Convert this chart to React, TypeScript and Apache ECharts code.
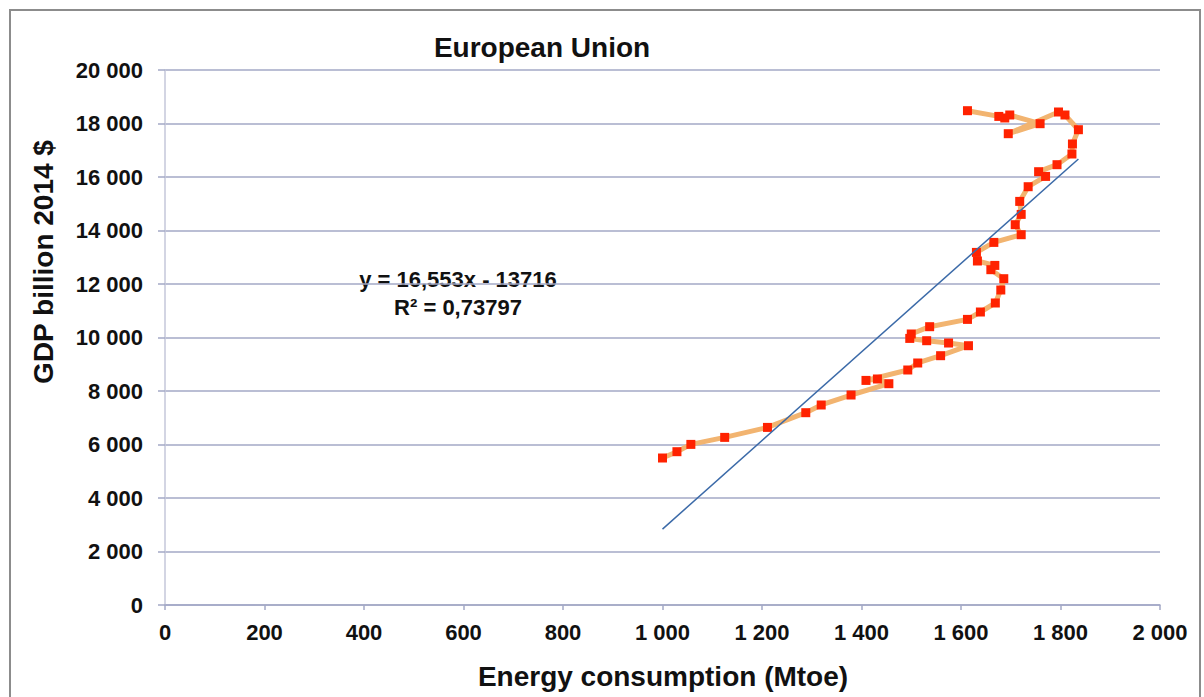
import React, { useEffect, useRef } from "react";
import * as echarts from "echarts";

const energy = [1000, 1029, 1057, 1125, 1211, 1288, 1319, 1379, 1455, 1432, 1409, 1493, 1513, 1559, 1615, 1575, 1531, 1497, 1500, 1537, 1613, 1639, 1669, 1680, 1686, 1660, 1668, 1633, 1631, 1666, 1721, 1709, 1721, 1718, 1735, 1770, 1756, 1793, 1823, 1824, 1836, 1809, 1796, 1695, 1759, 1698, 1688, 1676, 1613];
const gdp = [5495, 5731, 6004, 6266, 6639, 7189, 7477, 7850, 8273, 8449, 8396, 8785, 9047, 9320, 9693, 9794, 9880, 9966, 10131, 10404, 10677, 10953, 11290, 11776, 12198, 12535, 12695, 12860, 13181, 13555, 13843, 14217, 14602, 15088, 15637, 16022, 16198, 16460, 16860, 17234, 17768, 18318, 18430, 17619, 17993, 18318, 18206, 18265, 18479];

const slope = 16.553;
const intercept = -13716;
const equationText = "y = 16,553x - 13716";
const r2Text = "R² = 0,73797";

const titleText = "European Union";
const xTitle = "Energy consumption (Mtoe)";
const yTitle = "GDP billion 2014 $";

const FONT = "'Liberation Sans', Arial, sans-serif";
const GRID = "#a3a8c6";

function fmt(v: number): string {
  if (v >= 1000) {
    const th = Math.floor(v / 1000);
    const rest = String(v % 1000).padStart(3, "0");
    return th + " " + rest;
  }
  return String(v);
}

export default function App() {
  const ref = useRef<HTMLDivElement>(null);
  useEffect(() => {
    if (!ref.current) return;
    const chart = echarts.init(ref.current, undefined, { renderer: "svg" });
    const pts = energy.map((x, i) => [x, gdp[i]]);
    const xMin = Math.min(...energy);
    const xMax = Math.max(...energy);
    const trend = [
      [xMin, slope * xMin + intercept],
      [xMax, slope * xMax + intercept],
    ];
    chart.setOption({
      animation: false,
      backgroundColor: "#ffffff",
      grid: { left: 165, right: 44, top: 70, bottom: 92, containLabel: false },
      xAxis: {
        type: "value",
        min: 0,
        max: 2000,
        interval: 200,
        axisLine: { show: true, lineStyle: { color: GRID, width: 1.5 } },
        axisTick: { show: true, length: 5, lineStyle: { color: GRID, width: 1.5 } },
        splitLine: { show: false },
        axisLabel: {
          formatter: (v: number) => fmt(v),
          fontFamily: FONT,
          fontWeight: "bold",
          fontSize: 22,
          color: "#111",
          margin: 16,
        },
      },
      yAxis: {
        type: "value",
        min: 0,
        max: 20000,
        interval: 2000,
        axisLine: { show: true, lineStyle: { color: "#c4c7da", width: 1.5 } },
        axisTick: { show: true, length: 7, lineStyle: { color: GRID, width: 1.5 } },
        splitLine: { show: true, lineStyle: { color: GRID, width: 1.5 } },
        axisLabel: {
          formatter: (v: number) => fmt(v),
          fontFamily: FONT,
          fontWeight: "bold",
          fontSize: 22,
          color: "#111",
          margin: 22,
        },
      },
      graphic: [
        {
          type: "rect",
          shape: { x: 10, y: 10, width: 1190, height: 700 },
          style: { fill: "none", stroke: "#8c8c8c", lineWidth: 2 },
          silent: true,
        },
        {
          type: "text",
          x: 542,
          y: 47,
          style: {
            text: titleText,
            font: `bold 28px ${FONT}`,
            fill: "#111",
            textAlign: "center",
            textVerticalAlign: "middle",
          },
        },
        {
          type: "text",
          x: 663,
          y: 676,
          style: {
            text: xTitle,
            font: `bold 28px ${FONT}`,
            fill: "#111",
            textAlign: "center",
            textVerticalAlign: "middle",
          },
        },
        {
          type: "text",
          x: 43,
          y: 262,
          rotation: Math.PI / 2,
          style: {
            text: yTitle,
            font: `bold 28px ${FONT}`,
            fill: "#111",
            textAlign: "center",
            textVerticalAlign: "middle",
          },
        },
        {
          type: "text",
          x: 458,
          y: 279,
          style: {
            text: equationText,
            font: `bold 22px ${FONT}`,
            fill: "#111",
            textAlign: "center",
            textVerticalAlign: "middle",
          },
        },
        {
          type: "text",
          x: 458,
          y: 307,
          style: {
            text: r2Text,
            font: `bold 22px ${FONT}`,
            fill: "#111",
            textAlign: "center",
            textVerticalAlign: "middle",
          },
        },
      ],
      series: [
        {
          type: "line",
          data: pts,
          symbol: "rect",
          symbolSize: 9,
          showAllSymbol: true,
          lineStyle: { color: "#f2b470", width: 5 },
          itemStyle: { color: "#ff2200" },
          z: 2,
        },
        {
          type: "line",
          data: trend,
          symbol: "none",
          lineStyle: { color: "#3b6aa8", width: 1.5 },
          z: 3,
        },
      ],
    });
    return () => chart.dispose();
  }, []);
  return (
    <div
      ref={ref}
      style={{ position: "fixed", left: 0, top: 0, width: 1204, height: 697 }}
    />
  );
}
